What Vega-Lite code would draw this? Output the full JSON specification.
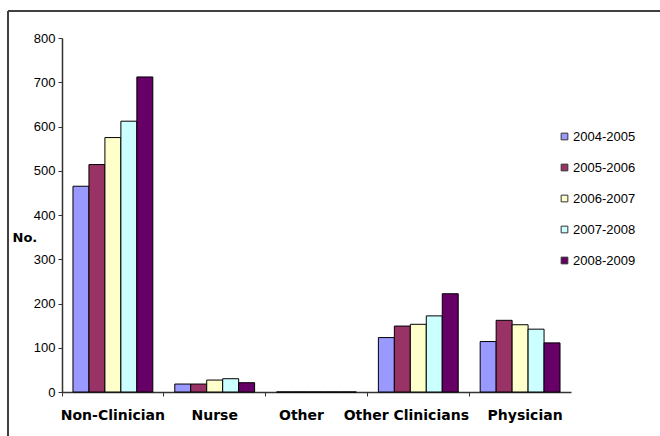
{
  "$schema": "https://vega.github.io/schema/vega-lite/v6.json",
  "autosize": "none",
  "padding": {"left": 8, "top": 11, "right": 0, "bottom": 0},
  "width": 656,
  "height": 429,
  "background": "#ffffff",
  "config": {
    "view": {"stroke": "#404040", "strokeWidth": 2, "strokeDash": [656, 1085, 429, 0]},
    "axis": {"domainColor": "#333333", "tickColor": "#333333", "grid": false}
  },
  "data": {
    "values": [
      {"category": "Non-Clinician", "year": "2004-2005", "value": 465},
      {"category": "Non-Clinician", "year": "2005-2006", "value": 514},
      {"category": "Non-Clinician", "year": "2006-2007", "value": 575},
      {"category": "Non-Clinician", "year": "2007-2008", "value": 612},
      {"category": "Non-Clinician", "year": "2008-2009", "value": 712},
      {"category": "Nurse", "year": "2004-2005", "value": 18},
      {"category": "Nurse", "year": "2005-2006", "value": 18},
      {"category": "Nurse", "year": "2006-2007", "value": 27},
      {"category": "Nurse", "year": "2007-2008", "value": 30},
      {"category": "Nurse", "year": "2008-2009", "value": 21},
      {"category": "Other", "year": "2004-2005", "value": 0},
      {"category": "Other", "year": "2005-2006", "value": 0},
      {"category": "Other", "year": "2006-2007", "value": 0},
      {"category": "Other", "year": "2007-2008", "value": 0},
      {"category": "Other", "year": "2008-2009", "value": 0},
      {"category": "Other Clinicians", "year": "2004-2005", "value": 123},
      {"category": "Other Clinicians", "year": "2005-2006", "value": 149},
      {"category": "Other Clinicians", "year": "2006-2007", "value": 153},
      {"category": "Other Clinicians", "year": "2007-2008", "value": 172},
      {"category": "Other Clinicians", "year": "2008-2009", "value": 222},
      {"category": "Physician", "year": "2004-2005", "value": 114},
      {"category": "Physician", "year": "2005-2006", "value": 162},
      {"category": "Physician", "year": "2006-2007", "value": 152},
      {"category": "Physician", "year": "2007-2008", "value": 142},
      {"category": "Physician", "year": "2008-2009", "value": 111}
    ]
  },
  "mark": {"type": "bar", "stroke": "#000000", "strokeWidth": 1},
  "encoding": {
    "x": {
      "field": "category",
      "type": "nominal",
      "sort": ["Non-Clinician", "Nurse", "Other", "Other Clinicians", "Physician"],
      "scale": {"range": [54, 563], "paddingInner": 0, "paddingOuter": 0},
      "axis": {
        "title": null,
        "offset": -48,
        "bandPosition": 0,
        "tickSize": 4,
        "labelAngle": 0,
        "labelPadding": 12,
        "labelOffset": {
          "condition": [
            {"test": "datum.value === 'Other Clinicians'", "value": -12},
            {"test": "datum.value === 'Other'", "value": -15},
            {"test": "datum.value === 'Physician'", "value": 5}
          ],
          "value": 0
        },
        "labelFont": "DejaVu Sans",
        "labelFontWeight": "bold",
        "labelFontSize": 14,
        "labelColor": "#000000",
        "domainWidth": 1.5
      }
    },
    "xOffset": {
      "field": "year",
      "type": "nominal",
      "scale": {"paddingInner": 0, "paddingOuter": 0.6875}
    },
    "y": {
      "field": "value",
      "type": "quantitative",
      "scale": {"domain": [0, 800], "range": [381, 27], "nice": false, "zero": true},
      "axis": {
        "offset": -54,
        "values": [0, 100, 200, 300, 400, 500, 600, 700, 800],
        "tickSize": 4,
        "labelPadding": 3,
        "labelFont": "Liberation Sans",
        "labelFontSize": 13,
        "labelColor": "#000000",
        "domainWidth": 1.5,
        "title": "No.",
        "titleAngle": 0,
        "titleAlign": "left",
        "titleBaseline": "middle",
        "titleX": -50,
        "titleY": 226,
        "titleFont": "DejaVu Sans",
        "titleFontWeight": "bold",
        "titleFontSize": 13,
        "titleColor": "#000000"
      }
    },
    "color": {
      "field": "year",
      "type": "nominal",
      "scale": {
        "domain": ["2004-2005", "2005-2006", "2006-2007", "2007-2008", "2008-2009"],
        "range": ["#9999FF", "#993366", "#FFFFCC", "#CCFFFF", "#660066"]
      },
      "legend": {
        "title": null,
        "orient": "none",
        "legendX": 550,
        "legendY": 119,
        "padding": 0,
        "symbolType": "square",
        "symbolSize": 45,
        "symbolStrokeColor": "#333333",
        "symbolStrokeWidth": 1,
        "labelFont": "Liberation Sans",
        "labelFontSize": 13,
        "labelColor": "#000000",
        "labelOffset": 2,
        "rowPadding": 17
      }
    }
  }
}
